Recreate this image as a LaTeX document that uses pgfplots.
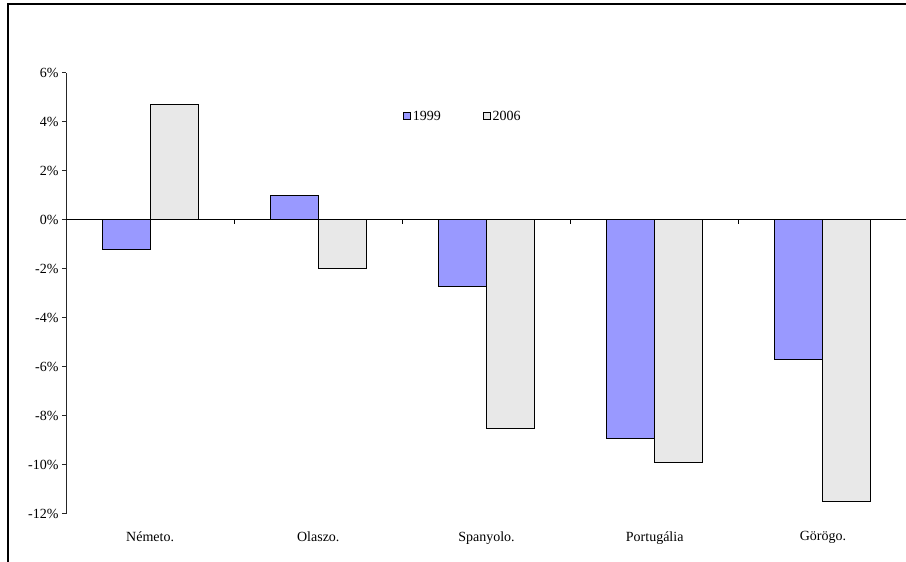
\documentclass[border=0pt]{standalone}
\usepackage{fontspec}
\setmainfont{Liberation Serif}
\usepackage{pgfplots}
\pgfplotsset{compat=1.18}
\definecolor{c1999}{RGB}{153,153,255}
\definecolor{c2006}{RGB}{232,232,232}
\begin{document}
\begin{tikzpicture}[x=1pt,y=1pt]
\useasboundingbox (0,0) rectangle (906,562);
\begin{axis}[
  at={(66pt,48pt)}, anchor=south west,
  scale only axis, width=841pt, height=441pt,
  ymin=-12, ymax=6, ytick={-12,-10,...,6},
  xmin=-0.5, xmax=4.5,
  xtick={0,...,4},
  xticklabels={Németo.,Olaszo.,Spanyolo.,Portugália,Görögo.},
  axis x line=bottom, axis y line=left,
  x axis line style={draw=none},
  y axis line style={-, black!85, line width=1pt},
  xtick style={draw=none},
  ytick style={black!85, line width=1pt},
  tick align=outside, major tick length=4pt,
  /pgf/number format/assume math mode=true,
  yticklabel={\pgfmathprintnumber{\tick}\%},
  ticklabel style={font=\fontsize{14}{16}\selectfont},
  xticklabel style={yshift=-10pt},
  ybar=0pt, bar width=48pt,
  legend style={at={(0.397,0.902)}, anchor=west, draw=none, fill=none,
    legend columns=2, font=\fontsize{14}{16}\selectfont,
    /tikz/every even column/.append style={column sep=40pt}},
  legend image code/.code={\draw[#1,line width=0.8pt] (-3pt,-3.5pt) rectangle (4pt,3.5pt);},
]
\addplot[fill=c1999, draw=black, line width=1pt] coordinates {(0,-1.2) (1,1.0) (2,-2.7) (3,-8.9) (4,-5.7)};
\addplot[fill=c2006, draw=black, line width=1pt] coordinates {(0,4.7) (1,-2.0) (2,-8.5) (3,-9.9) (4,-11.5)};
\legend{1999,2006}
\draw[black, line width=1pt] (axis cs:-0.5,0) -- (axis cs:4.5,0);
\pgfplotsinvokeforeach{0.5,1.5,2.5,3.5}{\draw[black, line width=1pt] (axis cs:#1,0) -- ([yshift=-4pt]axis cs:#1,0);}
\end{axis}
\draw[line width=2pt] (8,0) -- (8,558) -- (906,558);
\end{tikzpicture}
\end{document}
